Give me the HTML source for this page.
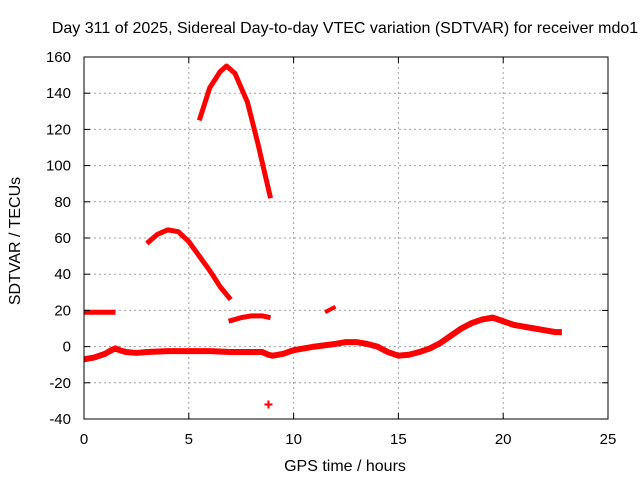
<!DOCTYPE html>
<html><head><meta charset="utf-8"><style>
body{margin:0;background:#fff}
svg{display:block;font-family:"Liberation Sans",sans-serif}
</style></head><body>
<svg id="chart" width="640" height="480">
<rect x="0" y="0" width="640" height="480" fill="#fff"/>
<g id="grid"></g>
<g id="series"></g>
<rect x="84" y="57" width="524" height="362" fill="none" stroke="#000" stroke-width="1"/>
<g id="ticks"></g>
<text x="345" y="33" text-anchor="middle" font-size="16">Day 311 of 2025, Sidereal Day-to-day VTEC variation (SDTVAR) for receiver mdo1</text>
<text x="345" y="471" text-anchor="middle" font-size="16">GPS time / hours</text>
<text transform="translate(20,241) rotate(-90)" text-anchor="middle" font-size="16">SDTVAR / TECUs</text>
</svg>
<script>
const xTicks=[0,5,10,15,20,25];
const yTicks=[-40,-20,0,20,40,60,80,100,120,140,160];
const segBaseX=[0,0.5,1,1.3,1.5,1.7,2,2.5,3,4,5,6,7,8,8.5,8.8,9,9.5,10,11,12,12.5,13,13.5,14,14.5,15,15.5,16,16.5,17,17.5,18,18.5,19,19.5,20,20.5,21,21.5,22,22.5,22.8];
const segBaseY=[-7,-6,-4,-2,-1,-2,-3,-3.5,-3,-2.5,-2.5,-2.5,-3,-3,-3,-4.5,-5,-4,-2,0,1.5,2.5,2.5,1.5,0,-3,-5,-4.5,-3,-1,2,6,10,13,15,16,14,12,11,10,9,8,8];
const segTopLeftX=[0,1.5];
const segTopLeftY=[19,19];
const segMidX=[3,3.5,4,4.5,5,5.5,6,6.5,7];
const segMidY=[57,62,64.5,63.5,58,50,42,33,26];
const segPeakX=[5.5,6,6.5,6.8,7.2,7.8,8.3,8.9];
const segPeakY=[125,143,152,155,151,135,112,82];
const segArcX=[6.9,7.5,8,8.5,8.9];
const segArcY=[14,16,17,17,16];
const segShortX=[11.5,12];
const segShortY=[19,22];
const pointX=[8.8];
const pointY=[-32];
const X0=84,X1=608,Y0=419,Y1=57;
const sx=v=>X0+(v-0)/(25-0)*(X1-X0);
const sy=v=>Y0-(v+40)/200*(Y0-Y1);
const NS='http://www.w3.org/2000/svg';
const grid=document.getElementById('grid'),ticks=document.getElementById('ticks'),series=document.getElementById('series');
function mk(tag,attrs,parent){const e=document.createElementNS(NS,tag);for(const k in attrs)e.setAttribute(k,attrs[k]);parent.appendChild(e);return e;}
xTicks.forEach(t=>{const x=sx(t);
 if(t>0&&t<25){const g=mk('line',{x1:x,x2:x,y1:Y1,y2:Y0,stroke:'#a0a0a0','stroke-dasharray':'2,3'},grid);}
 const a=mk('line',{x1:x,x2:x,y1:Y0,y2:Y0-6,stroke:'#000'},ticks);
 const b=mk('line',{x1:x,x2:x,y1:Y1,y2:Y1+6,stroke:'#000'},ticks);
 const l=mk('text',{x:x,y:444,'text-anchor':'middle','font-size':15},ticks);l.textContent=t;});
yTicks.forEach(t=>{const y=sy(t);
 if(t>-40&&t<160){const g=mk('line',{x1:X0,x2:X1,y1:y,y2:y,stroke:'#a0a0a0','stroke-dasharray':'2,3'},grid);}
 const a=mk('line',{x1:X0,x2:X0+6,y1:y,y2:y,stroke:'#000'},ticks);
 const b=mk('line',{x1:X1,x2:X1-6,y1:y,y2:y,stroke:'#000'},ticks);
 const l=mk('text',{x:71,y:y+5,'text-anchor':'end','font-size':15},ticks);l.textContent=t;});
function seg(xs,ys,name,w){const pts=xs.map((v,i)=>sx(v)+','+sy(ys[i])).join(' ');
 const p=mk('polyline',{points:pts,fill:'none',stroke:'#f00','stroke-width':w,'stroke-linejoin':'round','stroke-linecap':'butt'},series);
 }
seg(segBaseX,segBaseY,'sdtvar-baseline-series',6);
seg(segTopLeftX,segTopLeftY,'sdtvar-early-segment',5);
seg(segMidX,segMidY,'sdtvar-mid-arc',5);
seg(segPeakX,segPeakY,'sdtvar-peak-arc',5);
seg(segArcX,segArcY,'sdtvar-low-arc',5);
seg(segShortX,segShortY,'sdtvar-short-segment',4);
pointX.forEach((v,i)=>{const x=sx(v),y=sy(pointY[i]);
 const p=mk('path',{d:`M${x-4},${y}H${x+4}M${x},${y-4}V${y+4}`,stroke:'#f00','stroke-width':2},series);
 });
</script>
</body></html>
